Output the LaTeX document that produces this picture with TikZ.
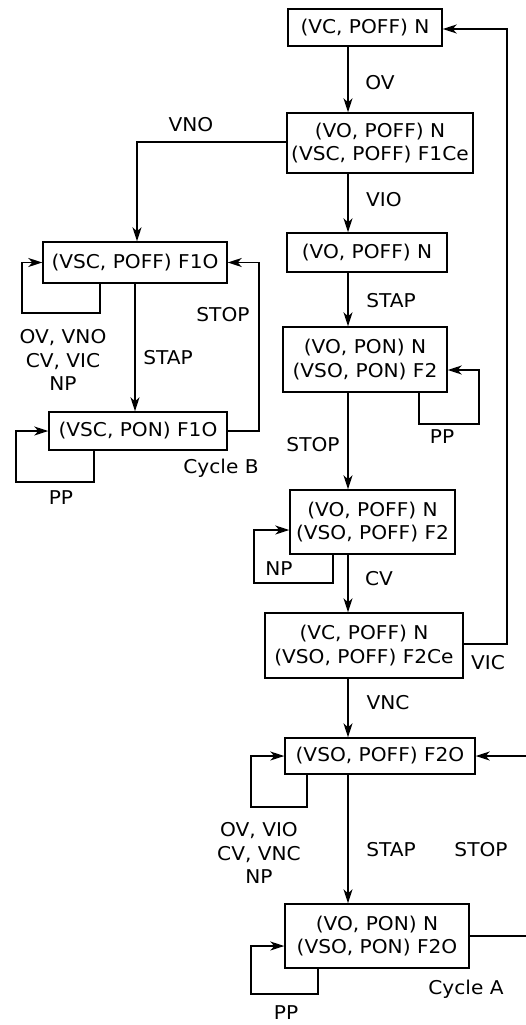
\documentclass[tikz,border=0pt]{standalone}
\usepackage{fontspec}
\setmainfont{DejaVu Sans}[FakeStretch=1.06]
\usetikzlibrary{arrows.meta}
\begin{document}
\begin{tikzpicture}[x=1pt,y=-1pt,
  every node/.style={font=\fontsize{19}{23.5}\selectfont},
  box/.style={draw,line width=1.4pt,rectangle,inner sep=0pt,align=center},
  lbl/.style={inner sep=0pt,align=center},
  con/.style={line width=1.4pt,-{Stealth[length=14pt,width=9pt,inset=4pt]}}]
\useasboundingbox (0,0) rectangle (526,1025);
% boxes
\node[box,minimum width=154pt,minimum height=37pt] (b1) at (365,27.5) {(VC, POFF) N};
\node[box,minimum width=186pt,minimum height=60pt] (b2) at (380,143) {(VO, POFF) N\\(VSC, POFF) F1Ce};
\node[box,minimum width=184pt,minimum height=41pt] (b3) at (135,262.5) {(VSC, POFF) F1O};
\node[box,minimum width=160pt,minimum height=39pt] (b4) at (367,252.5) {(VO, POFF) N};
\node[box,minimum width=178pt,minimum height=38pt] (b5) at (138,431) {(VSC, PON) F1O};
\node[box,minimum width=164pt,minimum height=65pt] (b6) at (365,359.5) {(VO, PON) N\\(VSO, PON) F2};
\node[box,minimum width=165pt,minimum height=64pt] (b7) at (372.5,522) {(VO, POFF) N\\(VSO, POFF) F2};
\node[box,minimum width=198pt,minimum height=65pt] (b8) at (364,645.5) {(VC, POFF) N\\(VSO, POFF) F2Ce};
\node[box,minimum width=190pt,minimum height=36pt] (b9) at (380,756) {(VSO, POFF) F2O};
\node[box,minimum width=184pt,minimum height=64pt] (b10) at (377,936) {(VO, PON) N\\(VSO, PON) F2O};
% helper coordinates
\coordinate (mx) at (348,0);
\coordinate (rx) at (507,0);
\coordinate (sx) at (259,0);
\coordinate (ex) at (540,0);
\coordinate (c3) at (22,313);
\coordinate (c5) at (16,482);
\coordinate (c6) at (479,424);
\coordinate (c7) at (254,583);
\coordinate (c9) at (251,807);
\coordinate (c10) at (251,994);
% main spine
\draw[con] (b1.south -| mx) -- (b2.north -| mx);
\draw[con] (b2.south -| mx) -- (b4.north -| mx);
\draw[con] (b4.south -| mx) -- (b6.north -| mx);
\draw[con] (b6.south -| mx) -- (b7.north -| mx);
\draw[con] (b7.south -| mx) -- (b8.north -| mx);
\draw[con] (b8.south -| mx) -- (b9.north -| mx);
\draw[con] (b9.south -| mx) -- (b10.north -| mx);
% left branch
\draw[con] (b2.west |- 0,142) -| (b3.north -| 137,0);
\draw[con] (b3.south) -- (b3.south |- b5.north);
\draw[con] (b3.south -| 100,0) |- (c3) |- (b3.west);
\draw[con] (b5.east) -| (sx |- b3.east) -- (b3.east);
\draw[con] (b5.south -| 94,0) |- (c5) |- (b5.west);
% right loops
\draw[con] (b6.south -| 419,0) |- (c6) |- (b6.east |- 0,370);
\draw[con] (b7.south -| 333,0) |- (c7) |- (b7.west |- 0,530);
\draw[con] (b8.east |- 0,644) -| (rx |- 0,29) -- (b1.east |- 0,29);
\draw[con] (b9.south -| 307,0) |- (c9) |- (b9.west);
\draw[con] (b10.south -| 318,0) |- (c10) |- (b10.west |- 0,946);
\draw[con] (b10.east |- 0,936) -| (ex |- b9.east) -- (b9.east);
% labels
\node[lbl] (lov) at (380,83) {OV};
\node[lbl] (lvno) at (191,125) {VNO};
\node[lbl] (lvio) at (384,200) {VIO};
\node[lbl] (lb3) at (63,360) {OV, VNO\\CV, VIC\\NP};
\node[lbl] (lstapb) at (168,358) {STAP};
\node[lbl] (lstopb) at (223,315) {STOP};
\node[lbl] (lppb) at (61,498) {PP};
\node[lbl] (lcycb) at (221,468) {Cycle B};
\node[lbl] (lstap1) at (391,301) {STAP};
\node[lbl] (lpp6) at (442,437) {PP};
\node[lbl] (lstop1) at (313,445) {STOP};
\node[lbl] (lnp) at (279,569) {NP};
\node[lbl] (lcv) at (379,579) {CV};
\node[lbl] (lvic) at (488,663) {VIC};
\node[lbl] (lvnc) at (388,703) {VNC};
\node[lbl] (lb9) at (259,853) {OV, VIO\\CV, VNC\\NP};
\node[lbl] (lstapa) at (391,850) {STAP};
\node[lbl] (lstopa) at (481,850) {STOP};
\node[lbl] (lppa) at (286,1013) {PP};
\node[lbl] (lcyca) at (466,989) {Cycle A};
\end{tikzpicture}
\end{document}
